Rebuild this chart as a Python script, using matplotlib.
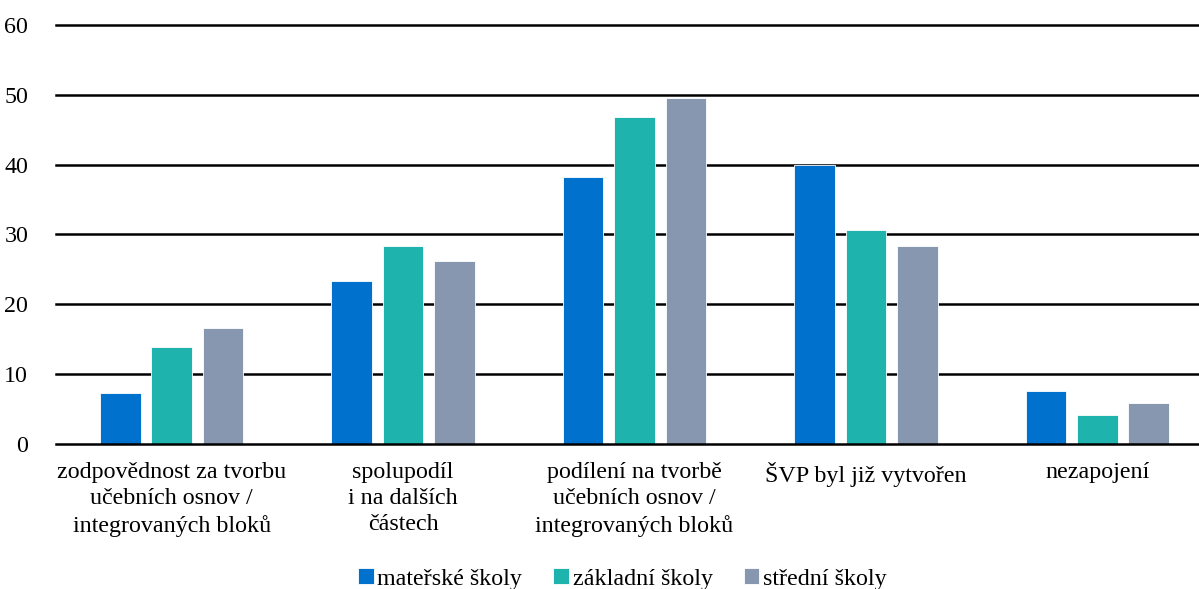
import numpy as np
import matplotlib.pyplot as plt

plt.rcParams['font.family'] = ['Liberation Serif', 'DejaVu Serif']

# Data
categories = [
    "zodpovědnost za tvorbu\nučebních osnov /\nintegrovaných bloků",
    "spolupodíl\ni na dalších\nčástech",
    "podílení na tvorbě\nučebních osnov /\nintegrovaných bloků",
    "ŠVP byl již vytvořen",
    "nezapojení",
]
series_names = ["mateřské školy", "základní školy", "střední školy"]
materske = [7.3, 23.4, 38.2, 39.9, 7.6]
zakladni = [13.9, 28.4, 46.8, 30.7, 4.2]
stredni = [16.6, 26.2, 49.5, 28.4, 5.9]
colors = ["#0072CE", "#1FB3AD", "#8797AF"]

fig = plt.figure(figsize=(11.99, 5.89), dpi=100)
ax = fig.add_axes([0.0467, 0.2462, 0.965, 0.7114])

x = np.arange(len(categories))
width = 0.175
step = 0.222
for i, (vals, name) in enumerate(zip([materske, zakladni, stredni], series_names)):
    ax.bar(x + (i - 1) * step, vals, width, color=colors[i], label=name,
           edgecolor='white', linewidth=0.6, zorder=3)

ax.set_xlim(-0.5, len(categories) - 0.5)
ax.set_ylim(0, 60)
ax.set_yticks(range(0, 61, 10))
# vodorovne mrizky i osa nula
for yv in range(0, 61, 10):
    ax.axhline(yv, color='black', linewidth=1.8, zorder=2 if yv else 4, clip_on=False)
for s in ax.spines.values():
    s.set_visible(False)
ax.tick_params(axis='both', length=0, labelsize=17.3)
ax.tick_params(axis='y', pad=20)
ax.tick_params(axis='x', pad=13)
ax.set_xticks(x)
ax.set_xticklabels(categories, linespacing=1.32)

fig.legend(loc='center', bbox_to_anchor=(0.519, 0.017), ncol=3, frameon=False,
           fontsize=17.3, handlelength=0.65, handleheight=0.65, handletextpad=0.15,
           columnspacing=1.3)

fig.savefig("out.png", dpi=100)
